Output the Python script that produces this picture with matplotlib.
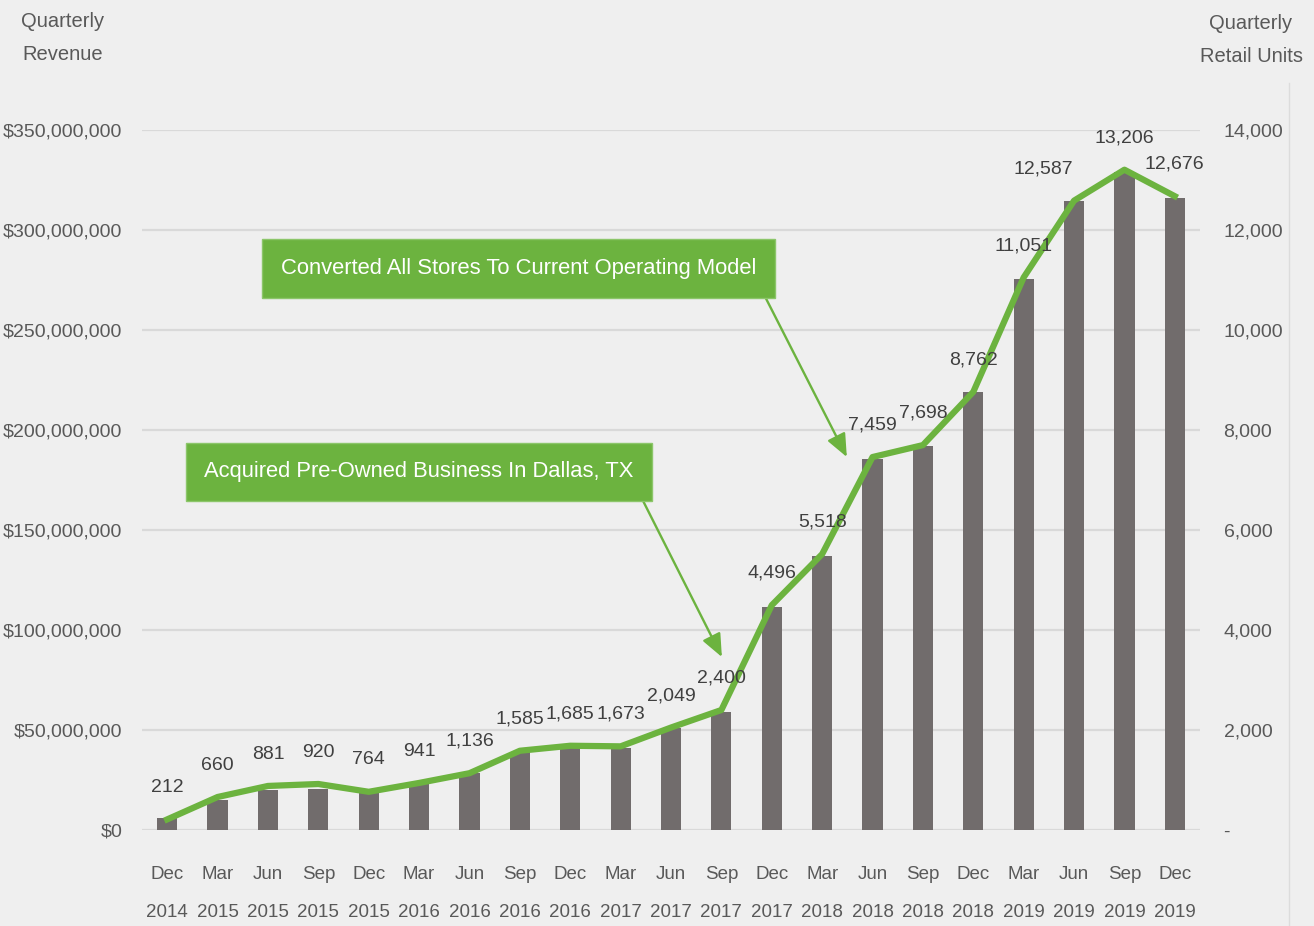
import matplotlib
matplotlib.use("Agg")
import matplotlib.pyplot as plt
from matplotlib.ticker import FuncFormatter, MultipleLocator
from matplotlib.lines import Line2D

plt.rcParams['font.family'] = ['Liberation Sans', 'DejaVu Sans']

# quarter labels (month / year)
quarters = ["Dec", "Mar", "Jun", "Sep"] * 5 + ["Dec"]
years = ["2014", "2015", "2015", "2015", "2015", "2016", "2016", "2016", "2016",
         "2017", "2017", "2017", "2017", "2018", "2018", "2018", "2018",
         "2019", "2019", "2019", "2019"]

# quarterly revenue, $ millions
revenue_m = [6, 15, 20, 20.5, 18.5, 23.5, 28.5, 39, 42.5, 41, 51, 59,
             111.5, 137, 185.5, 192, 219, 275.5, 314.5, 329, 316]

# quarterly retail units
units = [212, 660, 881, 920, 764, 941, 1136, 1585, 1685, 1673, 2049, 2400,
         4496, 5518, 7459, 7698, 8762, 11051, 12587, 13206, 12676]

bg = "#efefef"
bar_col = "#716c6c"
green = "#6cb33f"
tick_col = "#595959"
label_col = "#404040"

fig = plt.figure(figsize=(13.14, 9.26), dpi=100, facecolor=bg)
ax = fig.add_axes([142 / 1314, 1 - 830 / 926, 1058 / 1314, 700 / 926])
ax.set_facecolor(bg)
ax2 = ax.twinx()

x = list(range(len(units)))
revenue = [v * 1e6 for v in revenue_m]

ax.bar(x, revenue, width=0.4, color=bar_col, zorder=2)
ax.set_ylim(0, 350e6)
ax.set_xlim(-0.5, len(units) - 0.5)
ax.yaxis.set_major_locator(MultipleLocator(50e6))
ax.yaxis.set_major_formatter(FuncFormatter(lambda v, p: "${:,.0f}".format(v)))
ax.grid(axis="y", color="#d9d9d9", linewidth=1.6, zorder=0)
ax.set_axisbelow(True)

ax.set_xticks(x)
ax.set_xticklabels([q + "\n" + y for q, y in zip(quarters, years)], linespacing=2.57)

for a in (ax, ax2):
    for s in a.spines.values():
        s.set_visible(False)
ax.tick_params(axis="both", length=0, labelsize=14, colors=tick_col)
ax.tick_params(axis="x", pad=26, labelsize=13.5)
ax.tick_params(axis="y", pad=14)

ax2.plot(x, units, color=green, linewidth=4.5, solid_joinstyle="round", zorder=3)
ax2.set_ylim(0, 14000)
ax2.yaxis.set_major_locator(MultipleLocator(2000))
ax2.yaxis.set_major_formatter(FuncFormatter(lambda v, p: "-" if v == 0 else "{:,.0f}".format(v)))
ax2.tick_params(axis="y", length=0, labelsize=14, colors=tick_col, pad=17)

# unit labels above the line
for i, u in enumerate(units):
    dx = -22 if i == 18 else 0
    ax2.annotate("{:,}".format(u), (i, u), xytext=(dx, 23), textcoords="offset points",
                 ha="center", va="center", fontsize=14, color=label_col)

# event call-outs
arrow = dict(arrowstyle="-|>,head_length=0.7,head_width=0.3", color=green,
             lw=1.7, shrinkA=0, shrinkB=0, relpos=(1, 0), mutation_scale=20)
box = dict(boxstyle="square,pad=0.85", facecolor=green, edgecolor="#8cc66a", linewidth=1)
ax2.annotate("Converted All Stores To Current Operating Model", xy=(13.49, 7460),
             xytext=(6.97, 11230), textcoords="data", ha="center", va="center",
             fontsize=15.8, color="white", bbox=box, arrowprops=arrow, zorder=5)
ax2.annotate("Acquired Pre-Owned Business In Dallas, TX", xy=(11.01, 3460),
             xytext=(5.0, 7160), textcoords="data", ha="center", va="center",
             fontsize=15.8, color="white", bbox=box, arrowprops=arrow, zorder=5)

# axis headers
fig.text(63 / 1314, 1 - 38 / 926, "Quarterly\nRevenue", ha="center", va="center",
         fontsize=14.5, color=tick_col, linespacing=1.98)
fig.text(1251 / 1314, 1 - 40 / 926, "Quarterly\nRetail Units", ha="center", va="center",
         fontsize=14.5, color=tick_col, linespacing=1.98)

fig.add_artist(Line2D([1289 / 1314, 1289 / 1314], [0, 1 - 83 / 926],
                      transform=fig.transFigure, color="#dcdcdc", linewidth=1))

fig.savefig("out.png", dpi=100, facecolor=bg)
